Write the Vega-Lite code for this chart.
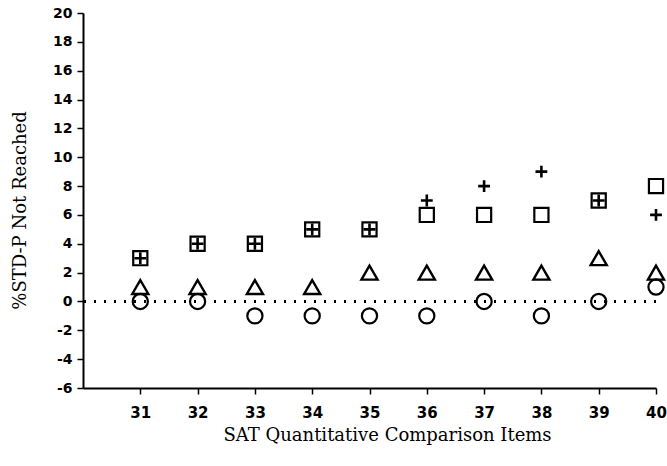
{
  "$schema": "https://vega.github.io/schema/vega-lite/v6.json",
  "autosize": "none",
  "width": 573,
  "height": 375,
  "padding": {"left": 83, "top": 13, "right": 11, "bottom": 78},
  "background": "white",
  "config": {
    "view": {"stroke": null},
    "axis": {"domainColor": "black", "tickColor": "black", "labelColor": "black", "titleColor": "black", "grid": false, "domainWidth": 2, "tickWidth": 1.5, "labelOverlap": false}
  },
  "data": {
    "values": [
      {"item": 31, "series": "Square", "value": 3},
      {"item": 32, "series": "Square", "value": 4},
      {"item": 33, "series": "Square", "value": 4},
      {"item": 34, "series": "Square", "value": 5},
      {"item": 35, "series": "Square", "value": 5},
      {"item": 36, "series": "Square", "value": 6},
      {"item": 37, "series": "Square", "value": 6},
      {"item": 38, "series": "Square", "value": 6},
      {"item": 39, "series": "Square", "value": 7},
      {"item": 40, "series": "Square", "value": 8},
      {"item": 31, "series": "Plus", "value": 3},
      {"item": 32, "series": "Plus", "value": 4},
      {"item": 33, "series": "Plus", "value": 4},
      {"item": 34, "series": "Plus", "value": 5},
      {"item": 35, "series": "Plus", "value": 5},
      {"item": 36, "series": "Plus", "value": 7},
      {"item": 37, "series": "Plus", "value": 8},
      {"item": 38, "series": "Plus", "value": 9},
      {"item": 39, "series": "Plus", "value": 7},
      {"item": 40, "series": "Plus", "value": 6},
      {"item": 31, "series": "Triangle", "value": 1},
      {"item": 32, "series": "Triangle", "value": 1},
      {"item": 33, "series": "Triangle", "value": 1},
      {"item": 34, "series": "Triangle", "value": 1},
      {"item": 35, "series": "Triangle", "value": 2},
      {"item": 36, "series": "Triangle", "value": 2},
      {"item": 37, "series": "Triangle", "value": 2},
      {"item": 38, "series": "Triangle", "value": 2},
      {"item": 39, "series": "Triangle", "value": 3},
      {"item": 40, "series": "Triangle", "value": 2},
      {"item": 31, "series": "Circle", "value": 0},
      {"item": 32, "series": "Circle", "value": 0},
      {"item": 33, "series": "Circle", "value": -1},
      {"item": 34, "series": "Circle", "value": -1},
      {"item": 35, "series": "Circle", "value": -1},
      {"item": 36, "series": "Circle", "value": -1},
      {"item": 37, "series": "Circle", "value": 0},
      {"item": 38, "series": "Circle", "value": -1},
      {"item": 39, "series": "Circle", "value": 0},
      {"item": 40, "series": "Circle", "value": 1}
    ]
  },
  "encoding": {
    "x": {
      "field": "item", "type": "quantitative",
      "scale": {"domain": [30, 40], "nice": false, "zero": false},
      "axis": {
        "values": [31, 32, 33, 34, 35, 36, 37, 38, 39, 40],
        "title": "SAT Quantitative Comparison Items",
        "titleFont": "DejaVu Serif", "titleFontSize": 18, "titleFontWeight": "normal",
        "titleX": 304, "titleY": 47, "titleBaseline": "middle", "titleAlign": "center",
        "labelFont": "DejaVu Sans", "labelFontSize": 15, "labelFontWeight": "bold",
        "labelPadding": 11, "tickSize": 6, "labelFlush": false, "labelOverlap": false
      }
    },
    "y": {
      "field": "value", "type": "quantitative",
      "scale": {"domain": [-6, 20], "nice": false, "zero": false},
      "axis": {
        "values": [-6, -4, -2, 0, 2, 4, 6, 8, 10, 12, 14, 16, 18, 20],
        "labelExpr": "datum.value + ''",
        "title": "%STD-P Not Reached",
        "titleFont": "DejaVu Serif", "titleFontSize": 18, "titleFontWeight": "normal",
        "titleX": -63, "titleY": 197, "titleAngle": -90, "titleBaseline": "middle", "titleAlign": "center",
        "labelFont": "DejaVu Sans", "labelFontSize": 14, "labelFontWeight": "bold",
        "labelPadding": 5, "tickSize": 6, "labelFlush": false, "labelOverlap": false, "labelSeparation": 0
      }
    }
  },
  "layer": [
    {
      "mark": {"type": "rule", "strokeDash": [2, 8], "strokeWidth": 2, "color": "black"},
      "encoding": {"y": {"datum": 0, "type": "quantitative"}, "x": null}
    },
    {
      "transform": [{"filter": "datum.series === 'Square'"}],
      "mark": {"type": "point", "shape": "square", "size": 200, "filled": false, "strokeWidth": 2.2, "color": "black", "opacity": 1}
    },
    {
      "transform": [{"filter": "datum.series === 'Plus'"}],
      "mark": {"type": "point", "shape": "M-1,0L1,0M0,-1L0,1", "size": 140, "filled": false, "strokeWidth": 2.6, "color": "black", "opacity": 1}
    },
    {
      "transform": [{"filter": "datum.series === 'Triangle'"}],
      "mark": {"type": "point", "shape": "triangle-up", "size": 260, "filled": false, "strokeWidth": 2.4, "color": "black", "opacity": 1}
    },
    {
      "transform": [{"filter": "datum.series === 'Circle'"}],
      "mark": {"type": "point", "shape": "circle", "size": 230, "filled": false, "strokeWidth": 2.2, "color": "black", "opacity": 1}
    }
  ]
}
